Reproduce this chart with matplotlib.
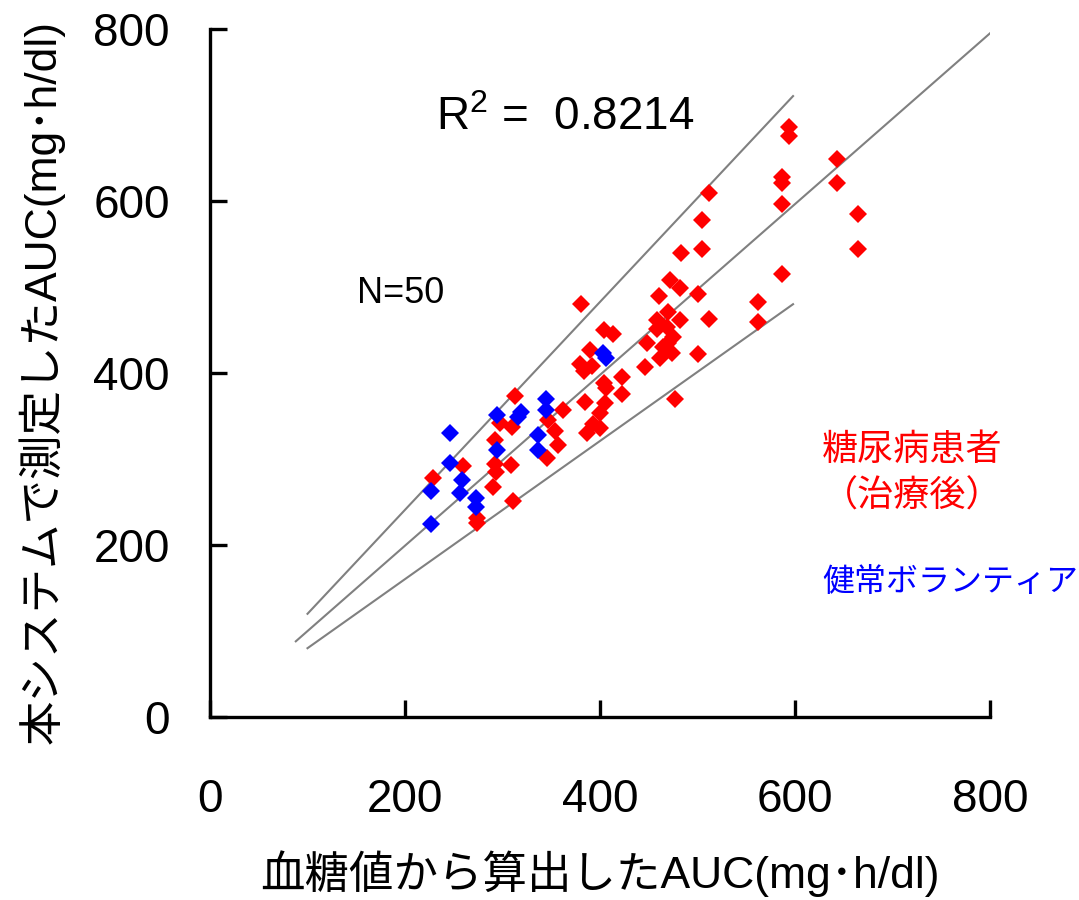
import matplotlib
matplotlib.use("Agg")
import matplotlib.pyplot as plt

plt.rcParams['font.family'] = ['Liberation Sans', 'Noto Sans CJK JP', 'DejaVu Sans']
plt.rcParams['mathtext.fontset'] = 'custom'
plt.rcParams['mathtext.rm'] = 'Liberation Sans'
plt.rcParams['mathtext.it'] = 'Liberation Sans'

# Patients after treatment (x: AUC from blood glucose, y: AUC from this system)
patient_x = [229, 259, 274, 274, 290, 292, 309, 293, 311, 292, 297, 310, 313,
             347, 354, 357, 346, 362, 381, 404, 413, 390, 379, 384, 392, 423,
             404, 406, 423, 385, 405, 400, 393, 400, 387, 446, 448, 462, 474,
             470, 458, 469, 482, 458, 477, 500, 472, 482, 460, 500, 470, 512,
             562, 562, 512, 505, 505, 483, 587, 587, 587, 587, 594, 594, 643,
             643, 665, 665, 475, 465]
patient_y = [278, 292, 231, 226, 267, 294, 293, 285, 251, 322, 342, 337, 373,
             345, 333, 316, 301, 357, 480, 450, 445, 427, 410, 402, 408, 395,
             388, 383, 376, 366, 365, 353, 341, 336, 330, 407, 435, 417, 423,
             435, 451, 453, 462, 462, 370, 422, 508, 499, 490, 492, 471, 463,
             483, 459, 609, 578, 544, 540, 628, 621, 597, 515, 686, 676, 649,
             621, 585, 544, 442, 430]

# Healthy volunteers
healthy_x = [246, 294, 316, 319, 345, 345, 336, 336, 294, 246, 258, 227, 256,
             273, 273, 227, 403, 406]
healthy_y = [330, 351, 349, 355, 370, 357, 328, 310, 310, 295, 276, 263, 260,
             255, 244, 224, 423, 417]

# Regression line and +/-20 % guide lines (end points)
fit_x = [88, 800]
fit_y = [88, 795]
upper_x = [100, 598]
upper_y = [120, 722]
lower_x = [100, 598]
lower_y = [80, 480]

ticks = [0, 200, 400, 600, 800]
r2_text = 'R$^{2}$ =  0.8214'
n_text = 'N=50'

fig = plt.figure(figsize=(10.79, 9.0), dpi=100)
ax = fig.add_axes([210 / 1079, 1 - 717 / 900, 780 / 1079, 688 / 900])

line_kw = dict(color='#808080', linewidth=1.5, zorder=2)
ax.plot(fit_x, fit_y, **line_kw)
ax.plot(upper_x, upper_y, **line_kw)
ax.plot(lower_x, lower_y, **line_kw)

ax.plot(patient_x, patient_y, linestyle='none', marker='D', markersize=9.5,
        markeredgewidth=0, color='#FF0000', zorder=3)
ax.plot(healthy_x, healthy_y, linestyle='none', marker='D', markersize=9.5,
        markeredgewidth=0, color='#0000FF', zorder=4)

ax.set_xlim(0, 800)
ax.set_ylim(0, 800)
ax.set_xticks(ticks)
ax.set_yticks(ticks)
ax.set_xticklabels([str(t) for t in ticks])
ax.set_yticklabels([str(t) for t in ticks])

for side in ('top', 'right'):
    ax.spines[side].set_visible(False)
for side in ('left', 'bottom'):
    ax.spines[side].set_linewidth(2.4)
    ax.spines[side].set_capstyle('projecting')

ax.tick_params(axis='both', direction='in', length=12, width=2.4,
               labelsize=33, colors='black')
ax.tick_params(axis='x', pad=44)
ax.tick_params(axis='y', pad=29)

ax.set_xlabel('血糖値から算出したAUC(mg･h/dl)', fontsize=32)
ax.xaxis.set_label_coords(0.5, -0.193)
ax.set_ylabel('本システムで測定したAUC(mg･h/dl)', fontsize=32)
ax.yaxis.set_label_coords(-0.186, 0.487)

ax.text(364, 696, r2_text, fontsize=33, ha='center', va='center')
ax.text(195, 493, n_text, fontsize=26, ha='center', va='center')

ax.text(628, 310, '糖尿病患者', fontsize=26, color='#FF0000',
        ha='left', va='center')
ax.text(628, 256, '（治療後）', fontsize=26, color='#FF0000',
        ha='left', va='center')
ax.text(628, 156, '健常ボランティア', fontsize=23, color='#0000FF',
        ha='left', va='center')

fig.savefig('out.png', dpi=100)
